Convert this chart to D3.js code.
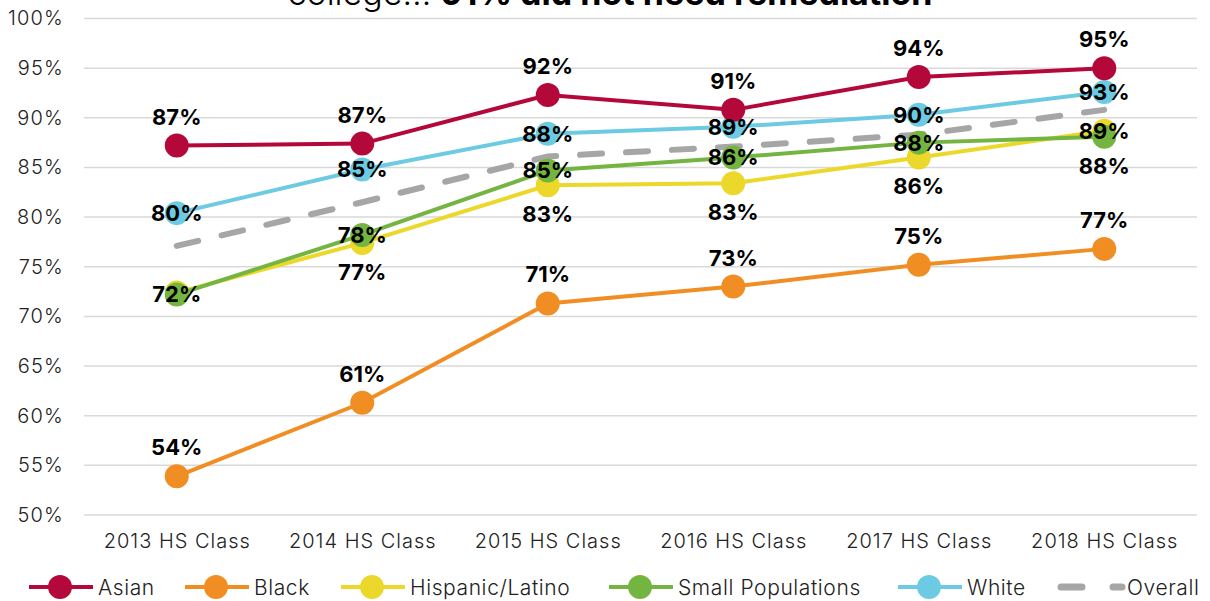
<!DOCTYPE html>
<html>
<head>
<meta charset="utf-8">
<script src="https://cdn.jsdelivr.net/npm/d3@7"></script>
<style>
  body { margin: 0; background: #fff; }
  svg text { font-family: Inter, "Noto Sans", sans-serif; }
</style>
</head>
<body>
<script>
var classes = ["2013 HS Class", "2014 HS Class", "2015 HS Class", "2016 HS Class", "2017 HS Class", "2018 HS Class"];
var yTicks = [0.5, 0.55, 0.6, 0.65, 0.7, 0.75, 0.8, 0.85, 0.9, 0.95, 1.0];

var asian    = [0.872, 0.874, 0.923, 0.908, 0.941, 0.950];
var black    = [0.539, 0.613, 0.713, 0.730, 0.752, 0.768];
var hispanic = [0.724, 0.774, 0.832, 0.834, 0.860, 0.887];
var smallPop = [0.722, 0.782, 0.847, 0.860, 0.875, 0.881];
var white    = [0.804, 0.848, 0.884, 0.891, 0.903, 0.926];
var overall  = [0.771, 0.815, 0.861, 0.871, 0.883, 0.908];

var series = [
  {name: "Asian", values: asian, color: "#b5083a", label: "above"},
  {name: "Black", values: black, color: "#f08e24", label: "above"},
  {name: "Hispanic/Latino", values: hispanic, color: "#ebd82a", label: "below"},
  {name: "Small Populations", values: smallPop, color: "#74b541", label: "center"},
  {name: "White", values: white, color: "#6ccbe3", label: "center"},
  {name: "Overall", values: overall, color: "#a6a6a6", dashed: true}
];

var width = 1210, height = 601;

var svg = d3.select("body").append("svg")
    .attr("width", width)
    .attr("height", height);

var x = d3.scalePoint().domain(classes).range([84, 1197]).padding(0.5);
var y = d3.scaleLinear().domain([0.5, 1]).range([515, 18.5]);

// title (only the bottom line shows)
var title = svg.append("text")
    .attr("x", 610)
    .attr("y", 5)
    .attr("text-anchor", "middle")
    .style("font-size", "34px")
    .style("fill", "#000");
title.append("tspan").style("font-weight", 300).text("college… ");
title.append("tspan").style("font-weight", 700).text("91% did not need remediation");

// grid
svg.append("g")
  .selectAll("line")
  .data(yTicks)
  .enter().append("line")
    .attr("x1", 84).attr("x2", 1197)
    .attr("y1", function(d) { return y(d); })
    .attr("y2", function(d) { return y(d); })
    .style("stroke", "#d9d9d9")
    .style("stroke-width", 1.5);

// y axis
var yAxis = svg.append("g")
    .attr("transform", "translate(84,0)")
    .call(d3.axisLeft(y).tickValues(yTicks).tickFormat(d3.format(".0%")).tickSize(0).tickPadding(20));
yAxis.select(".domain").remove();
yAxis.selectAll("text")
    .style("font-size", "20px").style("font-weight", 300).style("letter-spacing", "1.2px").style("fill", "#222");

// x axis
var xAxis = svg.append("g")
    .attr("transform", "translate(0,528)")
    .call(d3.axisBottom(x).tickSize(0).tickPadding(6));
xAxis.select(".domain").remove();
xAxis.selectAll("text")
    .style("font-size", "20px").style("font-weight", 300).style("letter-spacing", "1px").style("fill", "#222");

var line = d3.line()
    .x(function(d, i) { return x(classes[i]); })
    .y(function(d) { return y(d); });

var drawOrder = [5, 1, 2, 3, 4, 0];
drawOrder.forEach(function(k) {
  var s = series[k];
  var g = svg.append("g");
  g.append("path")
    .datum(s.values)
    .attr("d", line)
    .style("fill", "none")
    .style("stroke", s.color)
    .style("stroke-width", s.dashed ? 6 : 4)
    .style("stroke-linecap", s.dashed ? "round" : "butt")
    .style("stroke-dasharray", s.dashed ? "22,24" : null);
  if (!s.dashed) {
    g.selectAll("circle")
      .data(s.values)
      .enter().append("circle")
        .attr("cx", function(d, i) { return x(classes[i]); })
        .attr("cy", function(d) { return y(d); })
        .attr("r", 12)
        .style("fill", s.color);
  }
});

// data labels (Hispanic 2013 sits exactly under the Small Populations 72%)
series.forEach(function(s) {
  if (s.dashed) return;
  var pts = s.values.map(function(v, i) { return {v: v, i: i}; })
    .filter(function(p) { return !(s.name == "Hispanic/Latino" && p.i == 0); });
  svg.append("g")
    .selectAll("text")
    .data(pts)
    .enter().append("text")
      .attr("x", function(p) { return x(classes[p.i]); })
      .attr("y", function(p) {
        var pos = s.label;
        if (s.name == "Hispanic/Latino" && p.i == 5) pos = "center";
        if (s.name == "Small Populations" && p.i == 5) pos = "below";
        var off = pos == "above" ? -29 : pos == "below" ? 29 : 0;
        return y(p.v) + off;
      })
      .attr("dy", "0.36em")
      .attr("text-anchor", "middle")
      .style("font-size", "22px")
      .style("font-weight", 700)
      .style("fill", "#000")
      .text(function(p) { return Math.round(p.v * 100) + "%"; });
});

// legend
var legendX = [29, 185, 341, 609, 898, 1058];
var leg = svg.append("g").attr("transform", "translate(0,587)");
series.forEach(function(s, i) {
  var g = leg.append("g").attr("transform", "translate(" + legendX[i] + ",0)");
  if (s.dashed) {
    g.append("line").attr("x1", 3).attr("x2", 24)
      .style("stroke", s.color).style("stroke-width", 7).style("stroke-linecap", "round");
    g.append("line").attr("x1", 55).attr("x2", 64)
      .style("stroke", s.color).style("stroke-width", 7).style("stroke-linecap", "round");
  } else {
    g.append("line").attr("x1", 0).attr("x2", 64)
      .style("stroke", s.color).style("stroke-width", 4);
    g.append("circle").attr("cx", 31).attr("r", 12).style("fill", s.color);
  }
  g.append("text")
    .attr("x", 69)
    .attr("dy", "0.36em")
    .style("font-size", "21px")
    .style("font-weight", 300)
    .style("letter-spacing", "0.6px")
    .style("fill", "#222")
    .text(s.name);
});
</script>
</body>
</html>
